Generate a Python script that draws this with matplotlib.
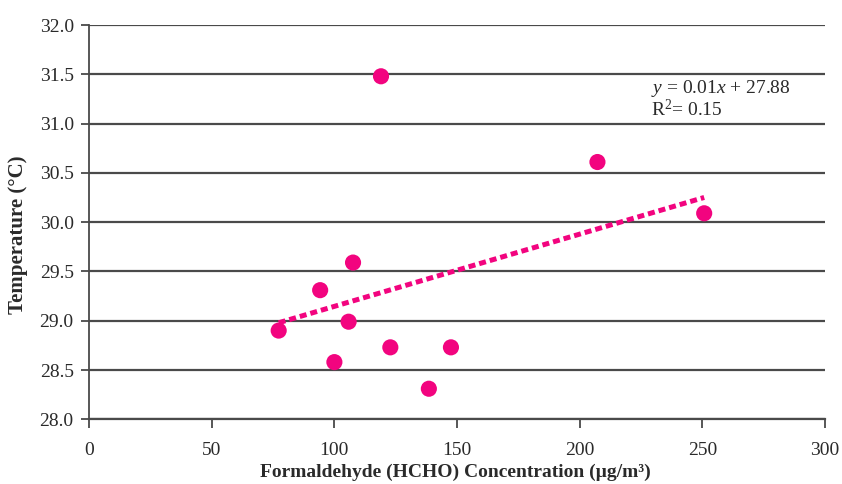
import numpy as np
import matplotlib
matplotlib.use("Agg")
import matplotlib.pyplot as plt

plt.rcParams["font.family"] = ["Liberation Serif", "DejaVu Serif"]
plt.rcParams["mathtext.fontset"] = "custom"
plt.rcParams["mathtext.rm"] = "Liberation Serif"
plt.rcParams["mathtext.it"] = "Liberation Serif:italic"

# Formaldehyde concentration (µg/m³) and indoor temperature (°C)
hcho = [77.3, 94.2, 100.0, 105.8, 107.6, 122.8, 138.5, 147.5, 119.0, 207.2, 250.7]
temperature = [28.90, 29.31, 28.58, 28.99, 29.59, 28.73, 28.31, 28.73, 31.48, 30.61, 30.09]

x_ticks = [0, 50, 100, 150, 200, 250, 300]
y_ticks = [28.0, 28.5, 29.0, 29.5, 30.0, 30.5, 31.0, 31.5, 32.0]
equation_text = "$y$ = 0.01$x$ + 27.88"
r2_text = "R$^2$= 0.15"

pink = "#F2047F"
grid_gray = "#4a4a4a"
text_color = "#2a2a2a"

fig = plt.figure(figsize=(8.42, 4.84), dpi=100)
ax = fig.add_axes([0.1057, 0.1337, 0.8743, 0.8146])

ax.set_xlim(0, 300)
ax.set_ylim(28.0, 32.0)
ax.set_xticks(x_ticks)
ax.set_yticks(y_ticks)
ax.set_yticklabels([f"{v:.1f}" for v in y_ticks])

# horizontal gridlines
for v in y_ticks:
    ax.axhline(v, color=grid_gray, lw=1.6, zorder=1)

for s in ["top", "right"]:
    ax.spines[s].set_visible(False)
ax.spines["left"].set_color(grid_gray)
ax.spines["left"].set_linewidth(1.3)
ax.spines["bottom"].set_color(grid_gray)
ax.spines["bottom"].set_linewidth(1.6)

ax.tick_params(axis="y", direction="out", length=6, width=1.3, color=grid_gray,
               labelsize=14, pad=5, labelcolor=text_color)
ax.tick_params(axis="x", direction="out", length=6.5, width=1.3, color=grid_gray,
               labelsize=14, pad=9.5, labelcolor=text_color)

# scatter points
ax.scatter(hcho, temperature, s=135, color=pink, edgecolors="none", zorder=3,
           clip_on=False)

# linear trend line over the data range
coef = np.polyfit(hcho, temperature, 1)
xs = np.array([min(hcho), max(hcho)])
ax.plot(xs, np.polyval(coef, xs), color=pink, lw=3.6,
        linestyle=(0, (1.4, 0.8)), solid_capstyle="butt", zorder=2)

ax.text(229, 31.36, equation_text, fontsize=14, color=text_color, va="center")
ax.text(229, 31.14, r2_text, fontsize=14, color=text_color, va="center")

ax.set_xlabel("Formaldehyde (HCHO) Concentration (µg/m³)", fontsize=14,
              fontweight="bold", color=text_color)
ax.xaxis.set_label_coords(0.498, -0.112)
ax.xaxis.label.set_va("top")
ax.set_ylabel("Temperature (°C)", fontsize=15, fontweight="bold", color=text_color)
ax.yaxis.set_label_coords(-0.097, 0.468)
ax.yaxis.label.set_va("center")

fig.savefig("out.png", dpi=100)
